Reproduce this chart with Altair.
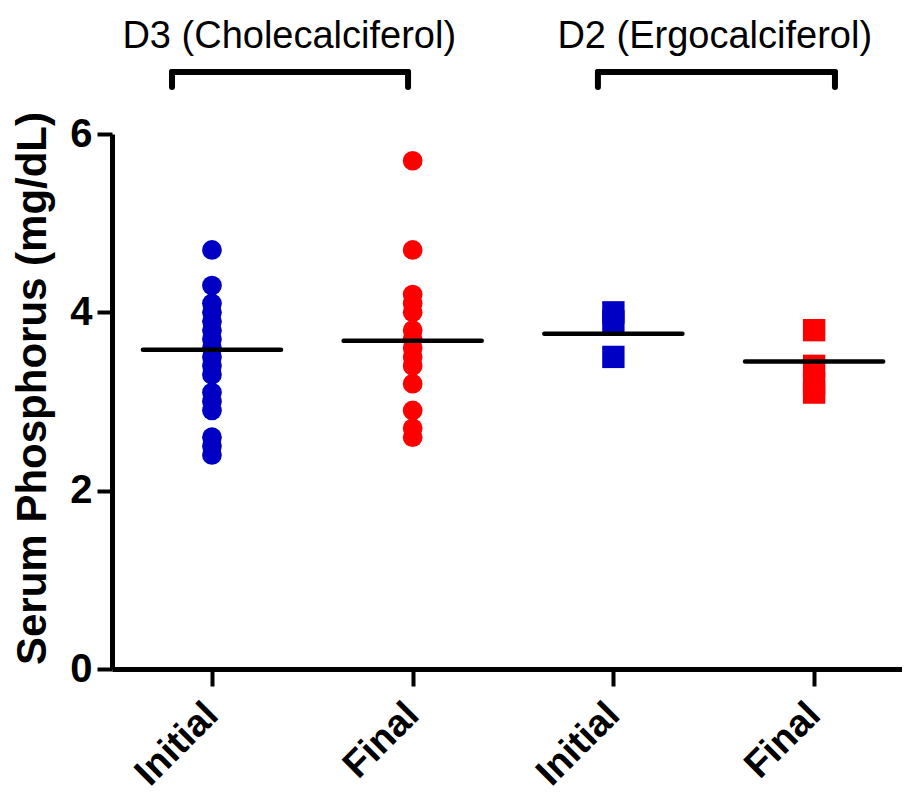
import json
import altair as alt
import pandas as pd

# ---------------- data ----------------
tick_labels = ["Initial", "Final", "Initial", "Final"]
group_names = ["D3 (Cholecalciferol)", "D2 (Ergocalciferol)"]

d3_initial = [4.7, 4.3, 4.1, 4.0, 3.9, 3.8, 3.7, 3.6, 3.5, 3.4, 3.3, 3.1, 3.0, 2.9, 2.6, 2.5, 2.4]
d3_final = [5.7, 4.7, 4.2, 4.1, 4.0, 3.8, 3.7, 3.6, 3.5, 3.4, 3.2, 2.9, 2.7, 2.6]
d2_initial = [4.0, 3.9, 3.5]
d2_final = [3.8, 3.4, 3.2, 3.1]
group_means = [3.58, 3.68, 3.76, 3.45]

# ---------------- build tables ----------------
series = [("D3", "Initial", d3_initial), ("D3", "Final", d3_final),
          ("D2", "Initial", d2_initial), ("D2", "Final", d2_final)]
rows = []
for pos, (vit, time, vals) in enumerate(series):
    for v in vals:
        rows.append({"pos": pos, "vitamin": vit, "time": time, "value": v})
points = pd.DataFrame(rows)
means = pd.DataFrame({"pos": list(range(4)), "mean": group_means})

# annotation geometry (in data units of the x index / y value)
ann = pd.DataFrame({
    "name": group_names,
    "cx": [0.385, 2.505],
    "x0": [-0.199, 1.923],
    "x1": [0.977, 3.104],
})
BR_TOP, BR_LEG, TXT_Y = 6.695, 6.527, 7.09
legs = pd.DataFrame({"x": list(ann["x0"]) + list(ann["x1"])})

FONT = "Liberation Sans"
BLUE, RED = "#0000C4", "#FF0000"

xscale = alt.Scale(domain=[-0.498, 3.438], nice=False, zero=False)
yscale = alt.Scale(domain=[0, 6], nice=False, zero=True)

label_expr = json.dumps(tick_labels) + "[datum.value]"
xaxis = alt.Axis(values=[0, 1, 2, 3], labelExpr=label_expr, title=None, grid=False,
                 domainColor="black", domainWidth=5, tickColor="black", tickWidth=4,
                 tickSize=17, labelFont=FONT, labelFontWeight="bold", labelFontSize=38,
                 labelColor="black", labelAngle=315, labelAlign="right",
                 labelBaseline="middle", labelPadding=23, labelOverlap=False,
                 labelFlush=False, labelBound=False)
yaxis = alt.Axis(values=[0, 2, 4, 6], title="Serum Phosphorus (mg/dL)", grid=False,
                 domainColor="black", domainWidth=5, tickColor="black", tickWidth=4,
                 tickSize=15, labelFont=FONT, labelFontWeight="bold", labelFontSize=40,
                 labelColor="black", labelPadding=5, titleFont=FONT, titleFontSize=42,
                 titleFontWeight="bold", titleColor="black", titleAngle=270,
                 titleAlign="center", titleBaseline="middle", titleX=-80, titleY=254)


def X(field):
    return alt.X(field, type="quantitative", scale=xscale, axis=xaxis)


def Y(field):
    return alt.Y(field, type="quantitative", scale=yscale, axis=yaxis)


pts = alt.Chart(points).mark_point(filled=True, opacity=1, strokeWidth=0).encode(
    x=X("pos"),
    y=Y("value"),
    color=alt.Color("time:N", scale=alt.Scale(domain=["Initial", "Final"], range=[BLUE, RED]), legend=None),
    shape=alt.Shape("vitamin:N", scale=alt.Scale(domain=["D3", "D2"], range=["circle", "square"]), legend=None),
    size=alt.Size("vitamin:N", scale=alt.Scale(domain=["D3", "D2"], range=[390, 500]), legend=None),
)

mean_lines = alt.Chart(means).transform_calculate(
    x0="datum.pos - 0.344", x1="datum.pos + 0.344"
).mark_rule(color="black", strokeWidth=4.5, strokeCap="round").encode(
    x=X("x0"), x2="x1:Q", y=Y("mean")
)

br_h = alt.Chart(ann).transform_calculate(yt=str(BR_TOP)).mark_rule(
    color="black", strokeWidth=6, strokeCap="round").encode(
    x=X("x0"), x2="x1:Q", y=Y("yt")
)
br_v = alt.Chart(legs).transform_calculate(yt=str(BR_TOP), yb=str(BR_LEG)).mark_rule(
    color="black", strokeWidth=6, strokeCap="round").encode(
    x=X("x"), y=Y("yt"), y2="yb:Q"
)
txt = alt.Chart(ann).transform_calculate(ty=str(TXT_Y)).mark_text(
    font=FONT, fontSize=38, color="black", align="center", baseline="middle").encode(
    x=X("cx"), y=Y("ty"), text="name:N"
)

chart = alt.layer(pts, mean_lines, br_h, br_v, txt).properties(
    width=790, height=535,
    padding={"left": 104, "top": 126, "right": 0, "bottom": 126},
    autosize=alt.AutoSizeParams(type="none"),
    background="white",
).configure_view(strokeWidth=0, stroke="transparent")

chart.save("out.html", embed_options={"renderer": "svg", "actions": False})
